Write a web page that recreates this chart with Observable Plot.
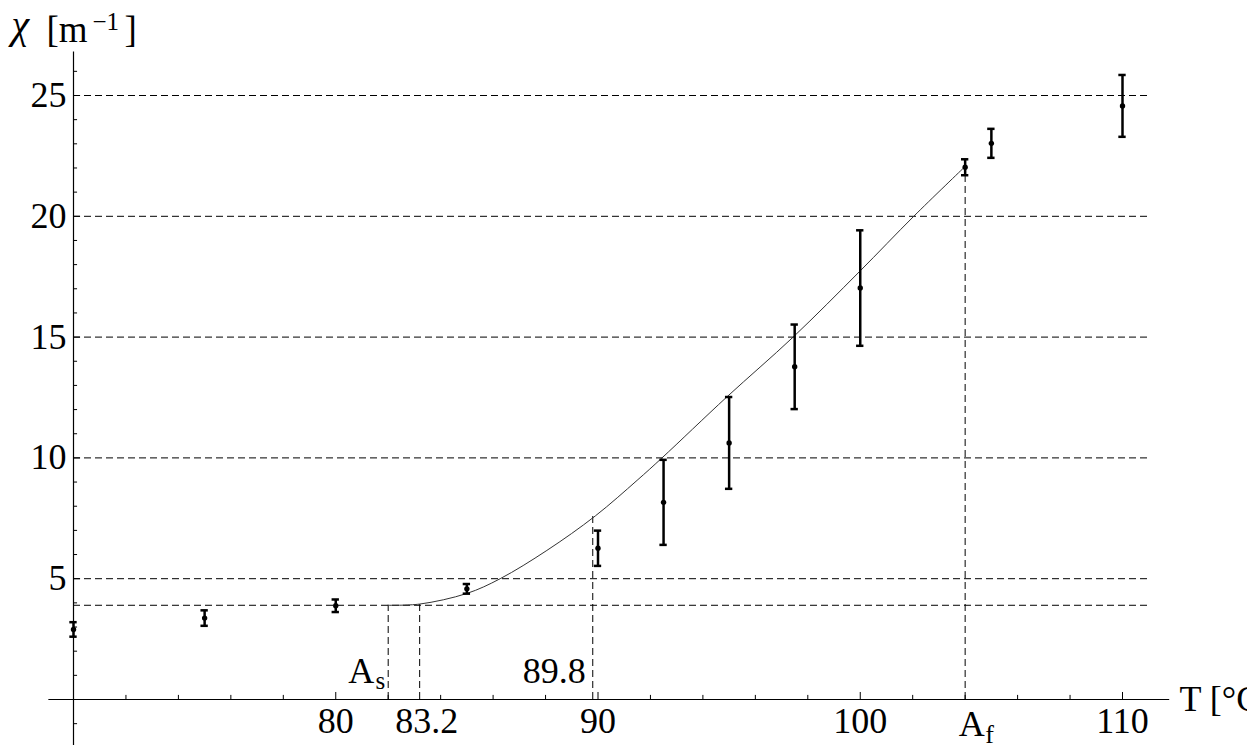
<!DOCTYPE html>
<html><head><meta charset="utf-8">
<script src="https://cdn.jsdelivr.net/npm/d3@7"></script>
<script src="https://cdn.jsdelivr.net/npm/@observablehq/plot@0.6"></script>
<style>
html,body{margin:0;padding:0;background:#fff;overflow:hidden}
</style></head><body><div id="chart"></div>
<script>
// measured data: temperature T [°C], susceptibility chi [1/m], error half-width
const T   = [70, 75, 80, 85, 90, 92.5, 95, 97.5, 100, 104, 105, 110];
const chi = [2.90, 3.37, 3.88, 4.58, 6.26, 8.16, 10.62, 13.77, 17.03, 22.03, 23.02, 24.57];
const err = [0.30, 0.32, 0.26, 0.20, 0.73, 1.76, 1.90, 1.75, 2.39, 0.33, 0.60, 1.28];

// fitted curve
const curveT   = [82.0, 83.2, 85.0, 86.27, 88.05, 89.9, 91.49, 92.44, 94.92, 97.44, 99.97, 102.04, 103.94];
const curveChi = [3.90, 3.95, 4.39, 5.00, 6.17, 7.60, 9.07, 10.00, 12.53, 15.00, 17.71, 20.00, 22.00];

// axes / ticks
const xMajor = [80, 90, 100, 110];
const xMinor = [72, 74, 76, 78, 82, 84, 86, 88, 92, 94, 96, 98, 102, 104, 106, 108];
const yMajor = [5, 10, 15, 20, 25];
const yMinor = [-1, 1, 2, 3, 4, 6, 7, 8, 9, 11, 12, 13, 14, 16, 17, 18, 19, 21, 22, 23, 24, 26];
const gridChi = [3.9, 5, 10, 15, 20, 25];

// marked temperatures (A_s, 83.2, 89.8, A_f) and the height of their drop lines
const markT   = [82.0, 83.2, 89.8, 104.0];
const markChi = [3.90, 3.95, 7.62, 22.0];

// axis extents
const xAxisExtent = [69.06, 111.8];
const yAxisExtent = [-1.9, 26.8];
const gridEnd = 111.0;

const pts = T.map((t, i) => ({t, c: chi[i], e: err[i]}));
const curve = curveT.map((t, i) => ({t, c: curveChi[i]}));
const marks = markT.map((t, i) => ({t, c: markChi[i]}));

const F = "'Liberation Serif', 'DejaVu Serif', serif";
const dash = "7,4";
const capHalf = 0.14;     // T units
const xTickMaj = 0.29, xTickMin = 0.17;   // chi units
const yTickMaj = 0.27, yTickMin = 0.155;  // T units

const chart = Plot.plot({
  width: 1247, height: 748,
  marginLeft: 73, marginRight: 125, marginTop: 95, marginBottom: 49,
  x: {domain: [70, 110], axis: null},
  y: {domain: [0, 25], axis: null},
  style: {fontFamily: F, background: "white", color: "black"},
  marks: [
    // dashed grid lines
    Plot.ruleY(gridChi, {y: d => d, x1: () => 70, x2: () => gridEnd, stroke: "black", strokeWidth: 1, strokeDasharray: dash}),
    // dashed drop lines
    Plot.ruleX(marks, {x: "t", y1: () => 0, y2: "c", stroke: "black", strokeWidth: 1, strokeDasharray: dash}),
    // axes
    Plot.ruleY([0], {x1: () => xAxisExtent[0], x2: () => xAxisExtent[1], stroke: "black", strokeWidth: 1.2}),
    Plot.ruleX([70], {x: d => d, y1: () => yAxisExtent[0], y2: () => yAxisExtent[1], stroke: "black", strokeWidth: 1.2}),
    // x ticks
    Plot.ruleX(xMajor, {x: d => d, y1: () => 0, y2: () => xTickMaj, stroke: "black", strokeWidth: 1}),
    Plot.ruleX(xMinor, {x: d => d, y1: () => 0, y2: () => xTickMin, stroke: "black", strokeWidth: 1}),
    // y ticks
    Plot.ruleY(yMajor, {y: d => d, x1: () => 70, x2: () => 70 + yTickMaj, stroke: "black", strokeWidth: 1}),
    Plot.ruleY(yMinor, {y: d => d, x1: () => 70, x2: () => 70 + yTickMin, stroke: "black", strokeWidth: 1}),
    // fitted curve
    Plot.line(curve, {x: "t", y: "c", curve: "catmull-rom", stroke: "#333", strokeWidth: 1}),
    // error bars
    Plot.ruleX(pts, {x: "t", y1: d => d.c - d.e, y2: d => d.c + d.e, stroke: "black", strokeWidth: 2.5}),
    Plot.ruleY(pts, {y: d => d.c + d.e, x1: d => d.t - capHalf, x2: d => d.t + capHalf, stroke: "black", strokeWidth: 2.5}),
    Plot.ruleY(pts, {y: d => d.c - d.e, x1: d => d.t - capHalf, x2: d => d.t + capHalf, stroke: "black", strokeWidth: 2.5}),
    Plot.dot(pts, {x: "t", y: "c", r: 2.7, fill: "black", stroke: "none"}),
    // y tick labels
    Plot.text(yMajor, {x: () => 70, y: d => d, text: d => String(d), textAnchor: "end", dx: -7, fontSize: 36}),
    // x tick labels
    Plot.text(xMajor, {x: d => d, y: () => 0, text: d => String(d), lineAnchor: "top", dy: 8, fontSize: 36}),
    Plot.text([markT[1]], {x: d => d, y: () => 0, text: d => String(d), lineAnchor: "top", dy: 8, dx: 7, fontSize: 36}),
    // A_f label under axis
    Plot.text([markT[3]], {x: d => d, y: () => 0, text: () => "A", textAnchor: "start", lineAnchor: "bottom", dx: -6.5, dy: 36, fontSize: 36}),
    Plot.text([markT[3]], {x: d => d, y: () => 0, text: () => "f", textAnchor: "start", lineAnchor: "bottom", dx: 20, dy: 43, fontSize: 26}),
    // A_s label above axis
    Plot.text([markT[0]], {x: d => d, y: () => 0, text: () => "A", textAnchor: "end", lineAnchor: "bottom", dx: -14, dy: -17, fontSize: 36}),
    Plot.text([markT[0]], {x: d => d, y: () => 0, text: () => "s", textAnchor: "end", lineAnchor: "bottom", dx: -3, dy: -11, fontSize: 25}),
    // 89.8 label
    Plot.text([markT[2]], {x: d => d, y: () => 0, text: d => String(d), textAnchor: "end", lineAnchor: "bottom", dx: -7, dy: -17, fontSize: 36}),
    // axis titles
    Plot.text(["T [°C]"], {frameAnchor: "bottom-right", text: d => d, textAnchor: "start", lineAnchor: "bottom", dx: 57, dy: 11, fontSize: 36}),
    Plot.text(["χ"], {frameAnchor: "top-left", text: d => d, textAnchor: "start", lineAnchor: "bottom", dx: -62, dy: -58, fontSize: 40, fontStyle: "italic"}),
    Plot.text(["[m"], {frameAnchor: "top-left", text: d => d, textAnchor: "start", lineAnchor: "bottom", dx: -27, dy: -54, fontSize: 37}),
    Plot.text(["−1"], {frameAnchor: "top-left", text: d => d, textAnchor: "start", lineAnchor: "bottom", dx: 19, dy: -66, fontSize: 25}),
    Plot.text(["]"], {frameAnchor: "top-left", text: d => d, textAnchor: "start", lineAnchor: "bottom", dx: 51, dy: -54, fontSize: 37})
  ]
});
document.getElementById("chart").appendChild(chart);
</script>
</body></html>
